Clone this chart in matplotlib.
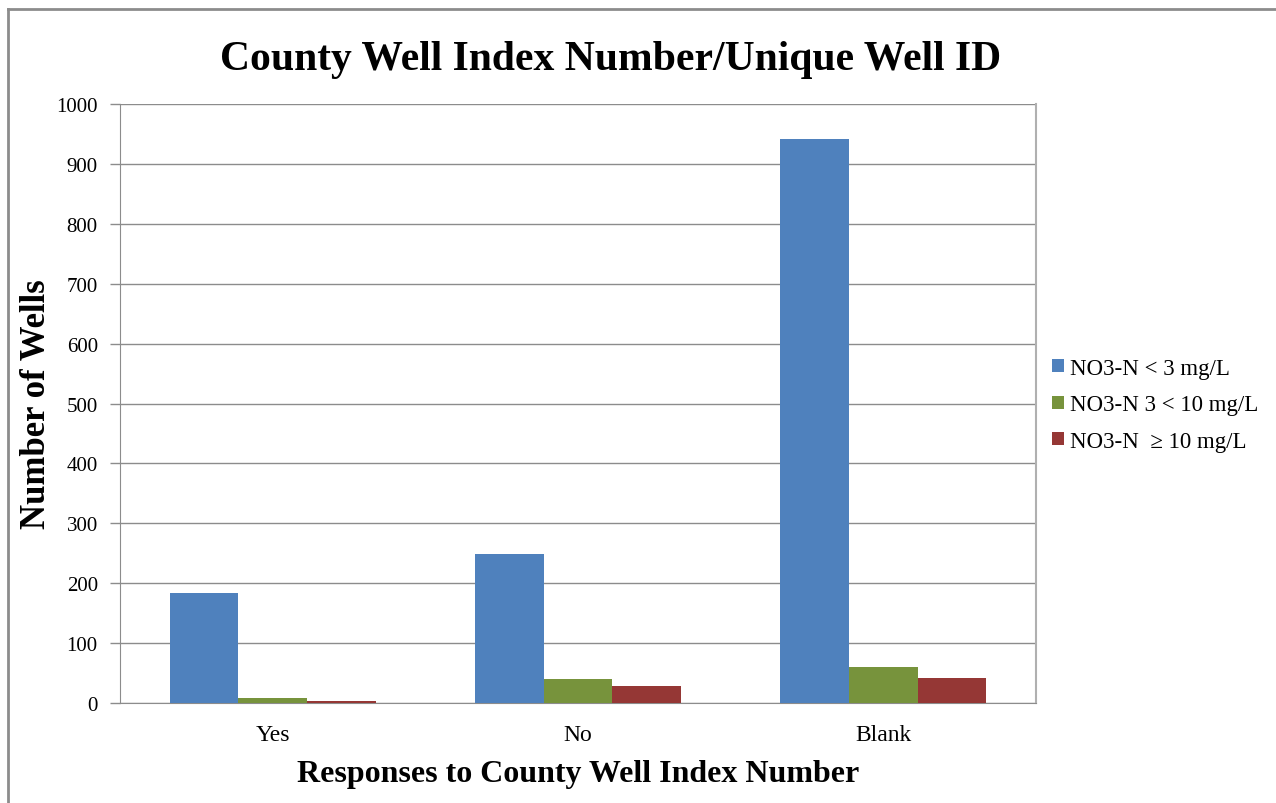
import numpy as np
import matplotlib.pyplot as plt
from matplotlib.lines import Line2D

categories = ['Yes', 'No', 'Blank']
series_names = ['NO3-N < 3 mg/L', 'NO3-N 3 < 10 mg/L', 'NO3-N  \u2265 10 mg/L']
low = [183, 248, 942]
mid = [8, 40, 60]
high = [3, 28, 42]
colors = ['#4F81BD', '#77933C', '#953735']

plt.rcParams['font.family'] = ['Liberation Serif', 'DejaVu Serif']

fig = plt.figure(figsize=(12.76, 8.04), dpi=100)
ax = fig.add_axes([120 / 1276, 1 - 704 / 804, 916 / 1276, 599 / 804])

x = np.arange(len(categories))
w = 0.225
for i, (vals, name, c) in enumerate(zip([low, mid, high], series_names, colors)):
    ax.bar(x + (i - 1) * w, vals, width=w, color=c, label=name, zorder=3)

ax.set_xlim(-0.5, 2.5)
ax.set_ylim(0, 1000)
ax.set_yticks(range(0, 1001, 100))
ax.grid(axis='y', color='#8c8c8c', linewidth=1, zorder=0)
ax.set_xticks(x)
ax.set_xticklabels(categories)
ax.tick_params(axis='x', length=0, labelsize=17, pad=15)
ax.tick_params(axis='y', length=7, width=1, color='#8c8c8c', labelsize=15, pad=9)
ax.spines['top'].set_visible(False)
ax.spines['left'].set_color('#8c8c8c')
ax.spines['bottom'].set_color('#8c8c8c')
ax.spines['right'].set_color('#b0b0b0')
ax.spines['right'].set_linewidth(1.5)

ax.set_ylabel('Number of Wells', fontsize=25, fontweight='bold')
ax.yaxis.set_label_coords(-0.073, 0.5)
ax.set_xlabel('Responses to County Well Index Number', fontsize=23, fontweight='bold', labelpad=10)
fig.text(611 / 1276, 1 - 60 / 804, 'County Well Index Number/Unique Well ID',
         fontsize=30, fontweight='bold', ha='center', va='center')

ax.legend(loc='center left', bbox_to_anchor=(1.008, 0.498), frameon=False, fontsize=16.5,
          handlelength=0.5, handleheight=0.5, handletextpad=0.25, labelspacing=0.68,
          borderaxespad=0)

# chart area border (left and top only visible)
fig.add_artist(Line2D([8 / 1276, 8 / 1276], [0, 1 - 10 / 804], color='#8c8c8c', lw=2))
fig.add_artist(Line2D([8 / 1276, 1], [1 - 10 / 804, 1 - 10 / 804], color='#8c8c8c', lw=2))

fig.savefig('out.png', dpi=100)
